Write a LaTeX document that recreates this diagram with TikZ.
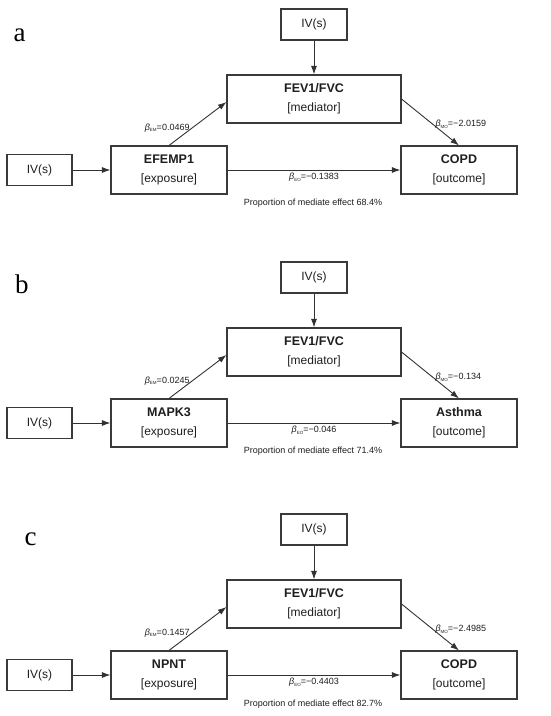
\documentclass[tikz,border=0pt]{standalone}
\usepackage{fontspec}
\newfontfamily\diagfont{Liberation Sans}
\newfontfamily\letterfont{Liberation Serif}
\usetikzlibrary{arrows.meta,positioning}
\definecolor{boxline}{RGB}{58,58,58}
\definecolor{arrowline}{RGB}{50,50,50}
\definecolor{textdark}{RGB}{30,30,30}
\newcommand{\coef}[1]{\textit{β}\raisebox{-1.3pt}{\fontsize{4.5}{5}\selectfont #1}}

\begin{document}
\begin{tikzpicture}[x=1pt,y=-1pt,
    text=textdark,
    varbox/.style={draw=boxline, line width=1.1pt, minimum width=116pt, minimum height=48pt, inner sep=0pt, align=center, font=\diagfont\fontsize{12}{19}\selectfont},
    ivbox/.style={draw=boxline, line width=1.1pt, minimum width=65pt, minimum height=31pt, inner sep=0pt, font=\diagfont\fontsize{12}{14}\selectfont},
    link/.style={draw=arrowline, line width=0.9pt, -{Latex[length=8.5pt,width=6pt]}},
    coeflabel/.style={font=\diagfont\fontsize{9}{10}\selectfont, inner sep=2pt},
    panellabel/.style={font=\letterfont\fontsize{27}{30}\selectfont, text=black, inner sep=0pt},
  ]
  \useasboundingbox (0,0) rectangle (550,716);
  \foreach \p/\dy/\lx/\ly/\py/\expo/\outc/\bem/\bmo/\beo/\prop in {
      a/0/19.5/35/203/EFEMP1/COPD/0.0469/−2.0159/−0.1383/68.4,
      b/253/22/31/198/MAPK3/Asthma/0.0245/−0.134/−0.046/71.4,
      c/505/30.5/34.5/199/NPNT/COPD/0.1457/−2.4985/−0.4403/82.7}{
    \begin{scope}[shift={(0,\dy)}]
      % panel letter
      \node[panellabel] (lab-\p) at (\lx,\ly) {\p};
      % boxes
      \node[ivbox, minimum width=66pt] (ivm-\p) at (314,24.5) {IV(s)};
      \node[varbox, minimum width=174pt] (med-\p) at (314,99) {{\fontsize{12.5}{19}\selectfont\bfseries FEV1/FVC}\\{[mediator]}};
      \node[ivbox] (ive-\p) at (39.5,170) {IV(s)};
      \node[varbox] (exp-\p) at (169,170) {{\fontsize{12.5}{19}\selectfont\bfseries \expo}\\{[exposure]}};
      \node[varbox] (out-\p) at (459,170) {{\fontsize{12.5}{19}\selectfont\bfseries \outc}\\{[outcome]}};
      % paths
      \draw[link] (ivm-\p) -- (med-\p);
      \draw[link] (ive-\p) -- (exp-\p);
      \draw[link] (exp-\p.north) -- node[coeflabel, pos=0.4, left] {\coef{EM}=\bem} ([yshift=-3pt]med-\p.west);
      \draw[link] (med-\p.east) -- node[coeflabel, pos=0.55, right] {\coef{MO}=\bmo} (out-\p.north);
      \draw[link] (exp-\p) -- node[coeflabel, below=1pt] {\coef{EO}=\beo} (out-\p);
      \node[coeflabel] (prop-\p) at (313,\py) {Proportion of mediate effect \prop\%};
    \end{scope}
  }
\end{tikzpicture}
\end{document}
